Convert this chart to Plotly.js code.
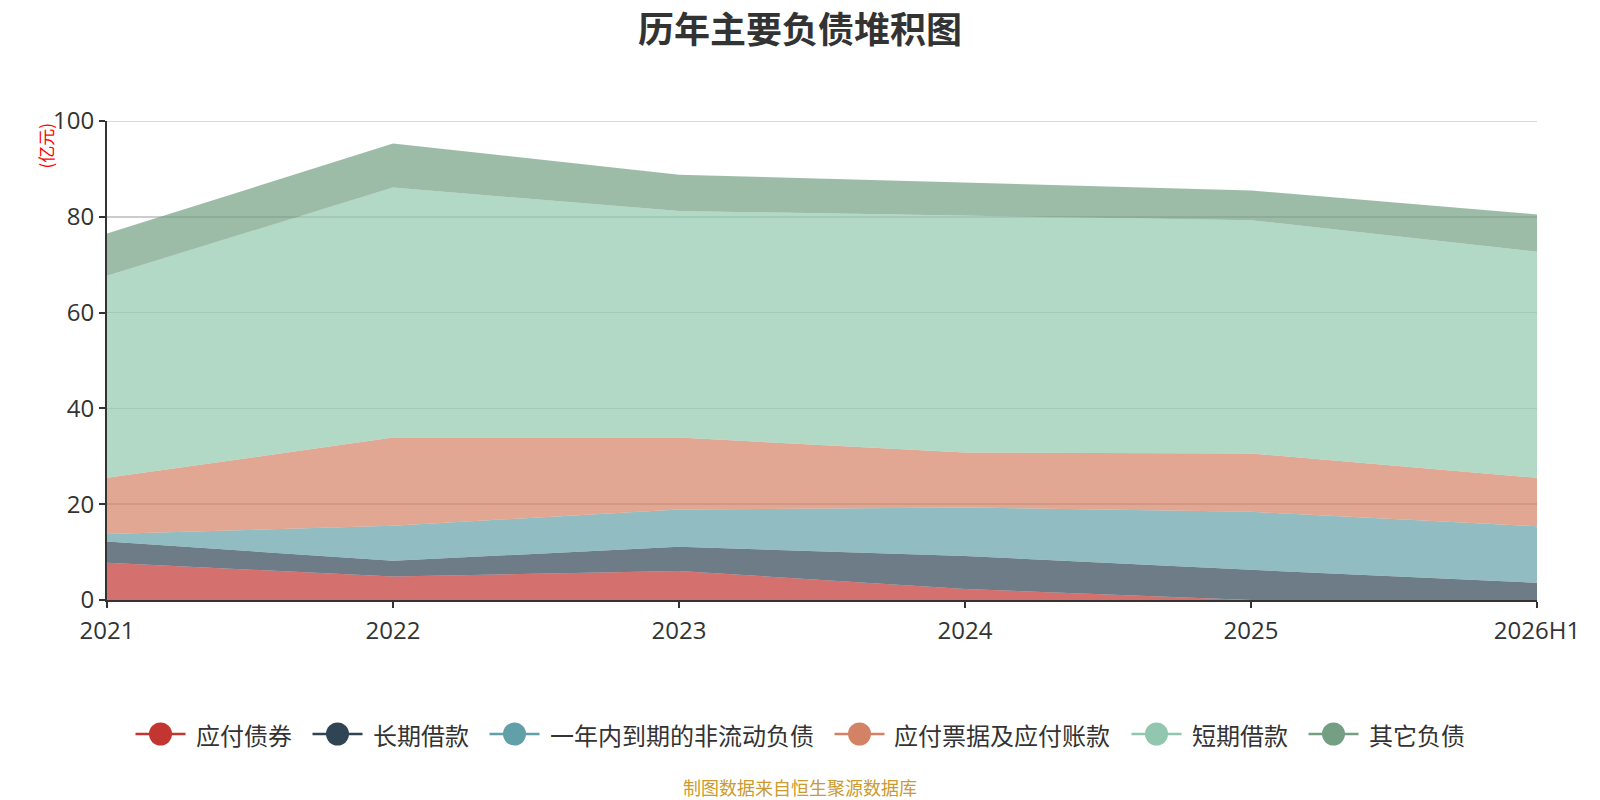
<!DOCTYPE html>
<html>
<head>
<meta charset="utf-8">
<script src="https://cdn.plot.ly/plotly-3.0.1.min.js"></script>
<style>html,body{margin:0;padding:0;background:#fff;}#chart{width:1600px;height:800px;}</style>
</head>
<body>
<div id="chart"></div>
<script>
// Categories (years)
var categories = ["2021", "2022", "2023", "2024", "2025", "2026H1"];
// Series values (亿元)
var bondsPayable   = [7.8, 4.9, 6.05, 2.3, 0, 0];         // 应付债券
var longTermLoans  = [4.4, 3.3, 5.05, 6.9, 6.3, 3.6];     // 长期借款
var currentNonCur  = [1.6, 7.3, 7.8, 10.1, 12.1, 11.8];   // 一年内到期的非流动负债
var notesPayable   = [11.7, 18.4, 15.0, 11.5, 12.2, 10.1];// 应付票据及应付账款
var shortTermLoans = [42.2, 52.2, 47.3, 49.4, 48.7, 47.2];// 短期借款
var otherLiabs     = [8.8, 9.2, 7.6, 6.9, 6.2, 7.8];      // 其它负债
var seriesNames = ["应付债券", "长期借款", "一年内到期的非流动负债", "应付票据及应付账款", "短期借款", "其它负债"];
var yTickVals = [0, 20, 40, 60, 80, 100];

var seriesValues = [bondsPayable, longTermLoans, currentNonCur, notesPayable, shortTermLoans, otherLiabs];
var colors = ["#c23531", "#2f4554", "#61a0a8", "#d48265", "#91c7ae", "#749f83"];
function rgba(hex, a) {
  var r = parseInt(hex.substr(1,2),16), g = parseInt(hex.substr(3,2),16), b = parseInt(hex.substr(5,2),16);
  return "rgba(" + r + "," + g + "," + b + "," + a + ")";
}

var traces = [];
seriesValues.forEach(function (vals, i) {
  traces.push({
    type: "scatter", mode: "lines", x: categories, y: vals,
    stackgroup: "one", fillcolor: rgba(colors[i], 0.7),
    line: {width: 0, color: colors[i]},
    name: seriesNames[i], showlegend: false, hoverinfo: "skip"
  });
});

// plot area geometry (pixels)
var W = 1600, H = 800, ML = 107, MR = 63, MT = 121, MB = 200;
var PW = W - ML - MR, PH = H - MT - MB;
function px2x(px) { return (px - ML) / PW; }
function py2y(py) { return (H - MB - py) / PH; }

var cjk = "Noto Sans CJK SC, sans-serif";
var shapes = [
  {type: "line", xref: "paper", yref: "y", x0: 0, x1: 1, y0: yTickVals[yTickVals.length - 1], y1: yTickVals[yTickVals.length - 1],
   line: {color: "#cccccc", width: 1.5}, layer: "below"}
];
var annotations = [
  {
    text: "(亿元)", xref: "paper", yref: "paper", x: px2x(45), y: py2y(145.5),
    textangle: -90, showarrow: false, xanchor: "center", yanchor: "middle",
    font: {family: cjk, size: 17, color: "#ff0000"}
  },
  {
    text: "制图数据来自恒生聚源数据库", xref: "paper", yref: "paper", x: 0.5 * (W) / PW - ML / PW, y: py2y(787),
    showarrow: false, xanchor: "center", yanchor: "middle",
    font: {family: cjk, size: 18, color: "#cc9a2e"}
  }
];

// custom legend (line + circle symbol, like the reference)
var legFont = 24, lineLen = 50, symGap = 10, itemGap = 21, circ = 23, legY = 734;
var totalW = 0;
seriesNames.forEach(function (nm, i) {
  totalW += lineLen + symGap + nm.length * legFont + (i < seriesNames.length - 1 ? itemGap : 0);
});
var cx = W / 2 - totalW / 2;
seriesNames.forEach(function (nm, i) {
  shapes.push({type: "line", xref: "paper", yref: "paper",
    x0: px2x(cx), x1: px2x(cx + lineLen), y0: py2y(legY), y1: py2y(legY),
    line: {color: colors[i], width: 2.5}});
  var mid = cx + lineLen / 2;
  shapes.push({type: "circle", xref: "paper", yref: "paper",
    x0: px2x(mid - circ / 2), x1: px2x(mid + circ / 2), y0: py2y(legY + circ / 2), y1: py2y(legY - circ / 2),
    fillcolor: colors[i], line: {width: 0}});
  var tx = cx + lineLen + symGap;
  annotations.push({text: nm, xref: "paper", yref: "paper", x: px2x(tx - 2), y: py2y(legY),
    xanchor: "left", yanchor: "middle", showarrow: false,
    font: {family: cjk, size: legFont, color: "#333333"}});
  cx = tx + nm.length * legFont + itemGap;
});

var baseFont = "Open Sans, Noto Sans CJK SC, sans-serif";
var layout = {
  width: W, height: H,
  paper_bgcolor: "#ffffff", plot_bgcolor: "#ffffff",
  margin: {l: ML, r: MR, t: MT, b: MB},
  font: {family: baseFont, color: "#333333"},
  title: {
    text: "<b>历年主要负债堆积图</b>",
    font: {family: cjk, size: 36, color: "#333333"},
    x: 0.5, xanchor: "center", xref: "container", y: 0.9625, yanchor: "middle", yref: "container"
  },
  xaxis: {
    type: "category", range: [0, categories.length - 1],
    showgrid: false, zeroline: false,
    showline: true, linecolor: "#333333", linewidth: 2,
    ticks: "outside", ticklen: 6, tickcolor: "#333333", tickwidth: 2,
    ticklabelstandoff: 2,
    tickfont: {family: baseFont, size: 24, color: "#333333"},
    fixedrange: true
  },
  yaxis: {
    range: [0, 100], tickvals: yTickVals, ticktext: yTickVals.map(String),
    showgrid: true, gridcolor: "#cccccc", gridwidth: 1.5, zeroline: false,
    showline: true, linecolor: "#333333", linewidth: 2,
    ticks: "outside", ticklen: 6, tickcolor: "#333333", tickwidth: 2,
    tickfont: {family: baseFont, size: 24, color: "#333333"},
    fixedrange: true
  },
  showlegend: false,
  shapes: shapes,
  annotations: annotations,
  hovermode: false
};

Plotly.newPlot("chart", traces, layout, {displayModeBar: false, staticPlot: true});
</script>
</body>
</html>
